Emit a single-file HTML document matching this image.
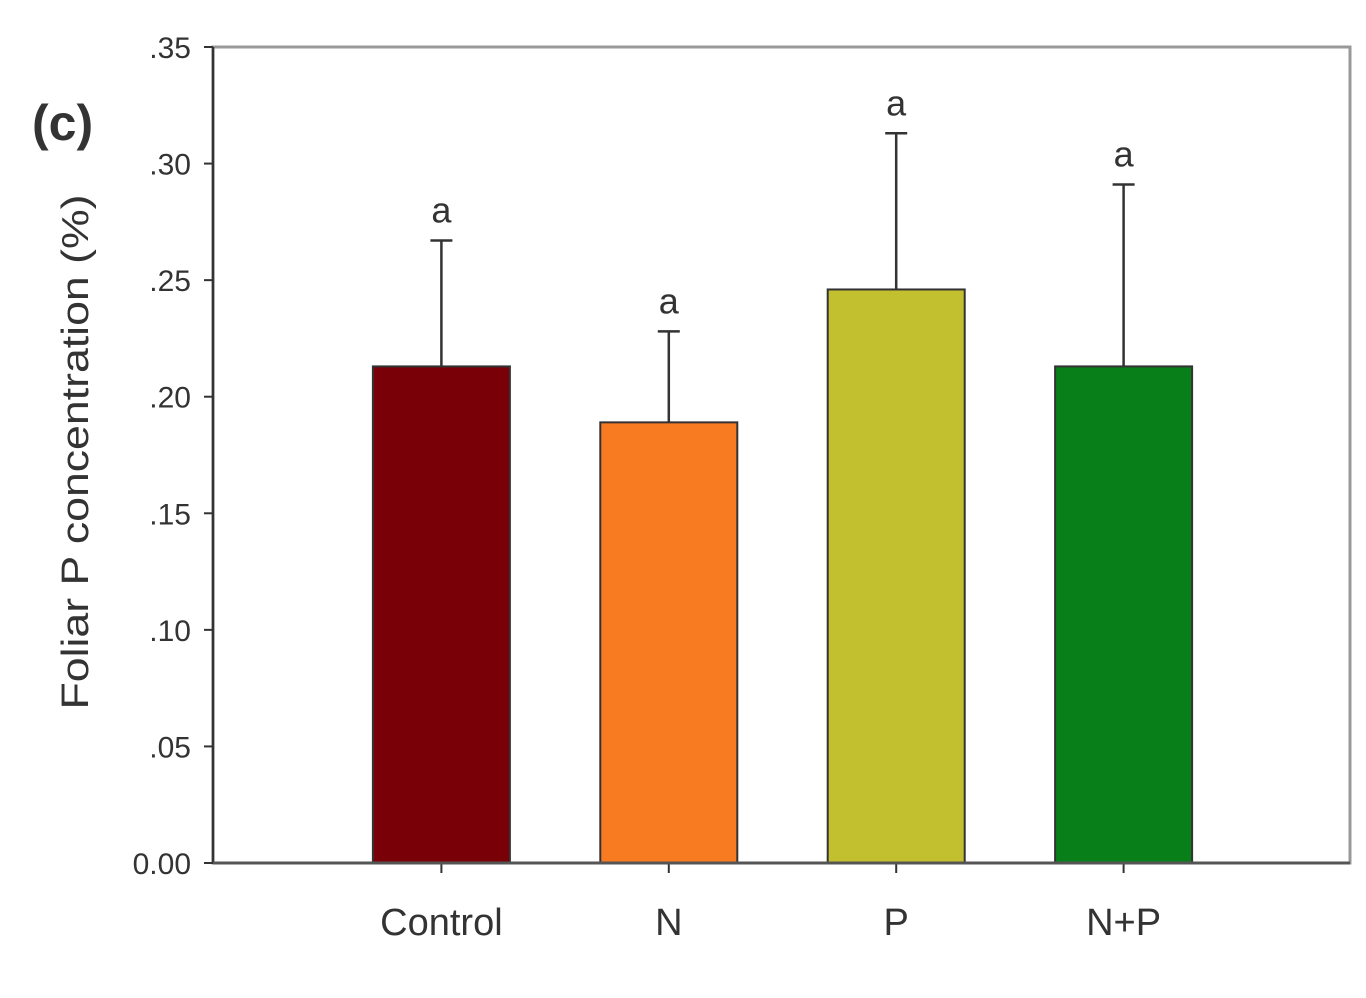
<!DOCTYPE html>
<html><head><meta charset="utf-8"><style>
html,body{margin:0;padding:0;background:#fff;width:1366px;height:998px;overflow:hidden}
svg text{font-family:"Liberation Sans",Arial,sans-serif;fill:#333}
</style></head><body>
<svg id="chart" width="1366" height="998" xmlns="http://www.w3.org/2000/svg">
<text x="32" y="140" font-size="50" font-weight="bold" fill="#333">(c)</text>
<text transform="translate(88,452) rotate(-90)" text-anchor="middle" font-size="38" textLength="515" lengthAdjust="spacingAndGlyphs">Foliar P concentration (%)</text>
<rect x="213" y="47" width="1137" height="816" fill="none" stroke="#999" stroke-width="3"/>
<g id="marks"></g>
</svg>
<script>
const categories = ["Control","N","P","N+P"];
const values = [0.213,0.189,0.246,0.213];
const errors = [0.054,0.039,0.067,0.078];
const letters = ["a","a","a","a"];
const colors = ["#7a0008","#f97b21","#c2c02f","#087f18"];
const yTicks = [0,0.05,0.10,0.15,0.20,0.25,0.30,0.35];
const yTickLabels = ["0.00",".05",".10",".15",".20",".25",".30",".35"];

const X0=213,X1=1350,Y0=863,Y1=47,YMAX=0.35;
const slot=(X1-X0)/(categories.length+1);
const xs=i=>X0+slot*(i+1)+1;
const ys=v=>Y0-(v/YMAX)*(Y0-Y1);
const bw=137;
const NS="http://www.w3.org/2000/svg";
const g=document.getElementById('marks');
function mk(t,a){const e=document.createElementNS(NS,t);for(const k in a)e.setAttribute(k,a[k]);g.appendChild(e);return e;}

yTicks.forEach((v,i)=>{
  const t=mk('line',{x1:X0-9,x2:X0,y1:ys(v),y2:ys(v),stroke:'#333','stroke-width':2});
  
  
  const l=mk('text',{x:X0-22,y:ys(v)+11,'text-anchor':'end','font-size':30,fill:'#333'});
  l.textContent=yTickLabels[i];
  
  
});
categories.forEach((c,i)=>{
  const cx=xs(i);
  const top=ys(values[i]), et=ys(values[i]+errors[i]);
  const eb=mk('line',{x1:cx,x2:cx,y1:top,y2:et,stroke:'#333','stroke-width':2.5});
  
  
  const cap=mk('line',{x1:cx-11,x2:cx+11,y1:et,y2:et,stroke:'#333','stroke-width':2.5});
  
  
  const r=mk('rect',{x:cx-bw/2,y:top,width:bw,height:Y0-top,fill:colors[i],stroke:'#333','stroke-width':2});
  
  
  const lt=mk('text',{x:cx,y:et-18,'text-anchor':'middle','font-size':36});
  lt.textContent=letters[i];
  
  
  const tk=mk('line',{x1:cx,x2:cx,y1:Y0,y2:Y0+10,stroke:'#333','stroke-width':2});
  
  
  const xl=mk('text',{x:cx,y:935,'text-anchor':'middle','font-size':38});
  xl.textContent=c;
  
  
});
const ax=mk('line',{x1:X0,x2:X0,y1:Y1,y2:Y0,stroke:'#333','stroke-width':2.5});


const bx=mk('line',{x1:X0,x2:X1,y1:Y0,y2:Y0,stroke:'#555','stroke-width':3});


</script>
</body></html>
